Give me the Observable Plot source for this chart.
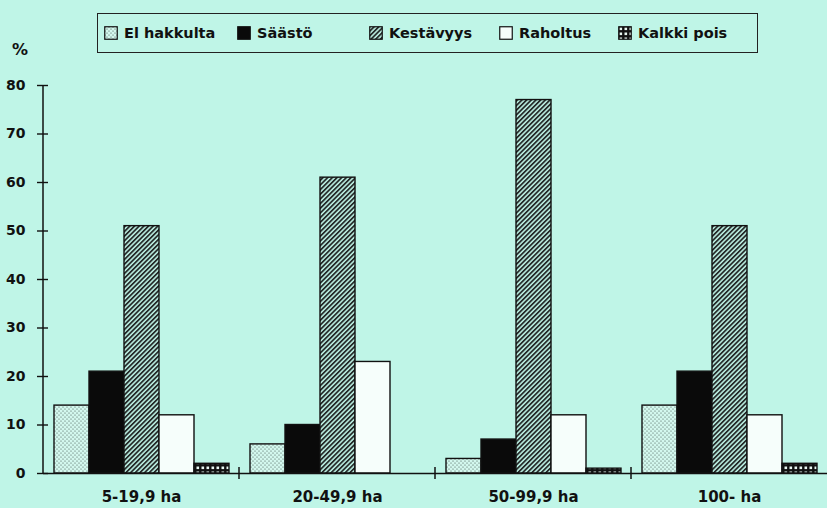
<!DOCTYPE html>
<html>
<head>
<meta charset="utf-8">
<script src="https://cdn.jsdelivr.net/npm/d3@7"></script>
<script src="https://cdn.jsdelivr.net/npm/@observablehq/plot@0.6"></script>
<style>
  html, body { margin: 0; padding: 0; background: #bff5e7; }
  #wrap { position: relative; width: 827px; height: 508px; background: #bff5e7; overflow: hidden;
          font-family: "DejaVu Sans", sans-serif; font-weight: bold; color: #111; }
  #legend { position: absolute; left: 97px; top: 13px; width: 661px; height: 40px; box-sizing: border-box;
            border: 1.6px solid #222; }
  .item { position: absolute; top: 0; height: 37px; display: flex; align-items: center; font-size: 14.5px; }
  .item svg { margin-right: 6px; }
  #pct { position: absolute; left: 12px; top: 40px; font-size: 16px; }
</style>
</head>
<body>
<div id="wrap">
  <div id="chart"></div>
  <div id="legend"></div>
  <div id="pct">%</div>
</div>
<script>
const groups = ["5-19,9 ha", "20-49,9 ha", "50-99,9 ha", "100- ha"];
const series = ["El hakkulta", "Säästö", "Kestävyys", "Raholtus", "Kalkki pois"];
const elHakkulta = [14, 6, 3, 14];
const saasto     = [21, 10, 7, 21];
const kestavyys  = [51, 61, 77, 51];
const raholtus   = [12, 23, 12, 12];
const kalkkiPois = [2, 0, 1, 2];
const yTicks = [0, 10, 20, 30, 40, 50, 60, 70, 80];

const seriesValues = [elHakkulta, saasto, kestavyys, raholtus, kalkkiPois];
const fills = ["url(#pDots)", "#0a0a0a", "url(#pHatch)", "#f6fefb", "url(#pGrid)"];
const legendX = [6, 139, 271, 401, 520];

const rows = [];
series.forEach((s, si) => groups.forEach((g, gi) => rows.push({group: g, series: s, value: seriesValues[si][gi]})));

const plot = Plot.plot({
  width: 827,
  height: 508,
  marginLeft: 43,
  marginRight: 0,
  marginTop: 85,
  marginBottom: 35,
  style: {background: "transparent", fontFamily: "'DejaVu Sans', sans-serif", color: "#111"},
  fx: {domain: groups, paddingInner: 0, paddingOuter: 0, label: null},
  x: {domain: series, paddingInner: 0, paddingOuter: 0.25, axis: null},
  y: {domain: [0, 80], label: null},
  marks: [
    ...series.map((s, si) => Plot.barY(rows.filter(d => d.series === s && d.value > 0), {
      fx: "group", x: "series", y: "value", fill: fills[si], stroke: "#111", strokeWidth: 1.4
    })),
    Plot.ruleY([0], {stroke: "#111", strokeWidth: 1.6}),
    Plot.axisY({ticks: yTicks, tickSize: 11, dx: 5, tickPadding: 12, fontSize: 14, fontWeight: "bold", label: null, stroke: "#111", strokeWidth: 1.4}),
    Plot.axisFx({anchor: "bottom", tickSize: 0, tickPadding: 18, fontSize: 15, fontWeight: "bold", label: null})
  ]
});

const svg = d3.select(plot);
const defs = svg.insert("defs", ":first-child");
// dotted pattern
const pd = defs.append("pattern").attr("id", "pDots").attr("patternUnits", "userSpaceOnUse").attr("width", 4).attr("height", 4);
pd.append("rect").attr("width", 4).attr("height", 4).attr("fill", "#d3f8ee");
pd.append("circle").attr("cx", 1).attr("cy", 1).attr("r", 0.6).attr("fill", "#3d504b");
pd.append("circle").attr("cx", 3).attr("cy", 3).attr("r", 0.6).attr("fill", "#3d504b");
// hatch pattern
const ph = defs.append("pattern").attr("id", "pHatch").attr("patternUnits", "userSpaceOnUse")
  .attr("width", 3.3).attr("height", 3.3).attr("patternTransform", "rotate(45)");
ph.append("rect").attr("width", 3.3).attr("height", 3.3).attr("fill", "#bff5e7");
ph.append("rect").attr("width", 1.8).attr("height", 3.3).attr("fill", "#262b2a");
// grid pattern
const pg = defs.append("pattern").attr("id", "pGrid").attr("patternUnits", "userSpaceOnUse").attr("width", 5).attr("height", 5);
pg.append("rect").attr("width", 5).attr("height", 5).attr("fill", "#111");
pg.append("rect").attr("x", 1.5).attr("y", 1.5).attr("width", 2.6).attr("height", 2.6).attr("fill", "#e8f8f2");

// axis line and group boundary ticks, placed with the plot's own scales
const yS = plot.scale("y");
const fxS = plot.scale("fx");
const x0 = fxS.apply(groups[0]);
svg.append("line").attr("x1", x0).attr("x2", x0).attr("y1", yS.apply(0)).attr("y2", yS.apply(80))
  .attr("stroke", "#111").attr("stroke-width", 1.5);
groups.slice(1).forEach(g => {
  const xx = fxS.apply(g);
  svg.append("line").attr("x1", xx).attr("x2", xx).attr("y1", yS.apply(0) - 6).attr("y2", yS.apply(0) + 6)
    .attr("stroke", "#111").attr("stroke-width", 1.5);
});

document.getElementById("chart").appendChild(plot);

// legend
const legend = d3.select("#legend");
series.forEach((s, i) => {
  const it = legend.append("div").attr("class", "item").style("left", legendX[i] + "px");
  const sw = it.append("svg").attr("width", 14).attr("height", 14);
  sw.append("rect").attr("x", 0.75).attr("y", 0.75).attr("width", 12.5).attr("height", 12.5)
    .attr("fill", fills[i]).attr("stroke", "#111").attr("stroke-width", 1.2);
  it.append("span").text(s);
});
</script>
</body>
</html>
